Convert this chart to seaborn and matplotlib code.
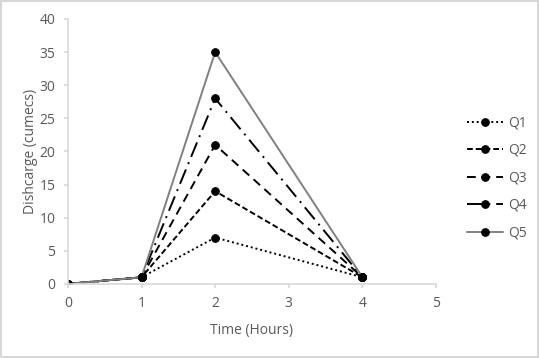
import matplotlib.pyplot as plt
import pandas as pd
import seaborn as sns

time_hours = [0, 1, 2, 4]
q1 = [0, 1, 7, 1]
q2 = [0, 1, 14, 1]
q3 = [0, 1, 21, 1]
q4 = [0, 1, 28, 1]
q5 = [0, 1, 35, 1]
series_names = ["Q1", "Q2", "Q3", "Q4", "Q5"]

sns.set_theme(style="white")
plt.rcParams["font.family"] = ["Open Sans", "DejaVu Sans"]

rows = []
for name, vals in zip(series_names, [q1, q2, q3, q4, q5]):
    for t, v in zip(time_hours, vals):
        rows.append({"Time": t, "Discharge": v, "Series": name})
df = pd.DataFrame(rows)

palette = {"Q1": "black", "Q2": "black", "Q3": "black", "Q4": "black", "Q5": "#808080"}
dashes = {
    "Q1": (1, 1.5),
    "Q2": (3, 1.5),
    "Q3": (4.5, 3),
    "Q4": (8, 3, 1, 3),
    "Q5": "",
}
markers = {n: "o" for n in series_names}

fig = plt.figure(figsize=(5.39, 3.58), dpi=100)
ax = fig.add_axes([0.126, 0.207, 0.683, 0.740])
fig.patches.append(plt.Rectangle((0.002, 0.003), 0.996, 0.994, transform=fig.transFigure,
                                 fill=False, edgecolor="#d0d0d0", linewidth=1.2))

sns.lineplot(data=df, x="Time", y="Discharge", hue="Series", style="Series",
             palette=palette, dashes=dashes, markers=markers, ax=ax,
             linewidth=1.4, markersize=5.5, markeredgecolor="black",
             markerfacecolor="black")

ax.set_xlim(0, 5)
ax.set_ylim(0, 40)
ax.set_xticks(range(0, 6))
ax.set_yticks(range(0, 41, 5))
for s in ["top", "right"]:
    ax.spines[s].set_visible(False)
for s in ["left", "bottom"]:
    ax.spines[s].set_color("#d9d9d9")
ax.tick_params(axis="x", colors="#595959", labelsize=10, length=3, pad=6,
               color="#d9d9d9", direction="out", bottom=True)
ax.tick_params(axis="y", colors="#595959", labelsize=10, length=3, pad=6,
               color="#d9d9d9", direction="out", left=True)
ax.set_xlabel("Time (Hours)", color="#595959", fontsize=10, labelpad=8)
ax.set_ylabel("Dishcarge (cumecs)", color="#595959", fontsize=10, labelpad=1)

handles, labels = ax.get_legend_handles_labels()
leg = ax.legend(handles, labels, loc="center left", bbox_to_anchor=(1.05, 0.40),
                frameon=False, fontsize=10, labelcolor="#595959",
                handlelength=2.6, labelspacing=0.9, handletextpad=0.4)

fig.savefig("out.png", dpi=100)
